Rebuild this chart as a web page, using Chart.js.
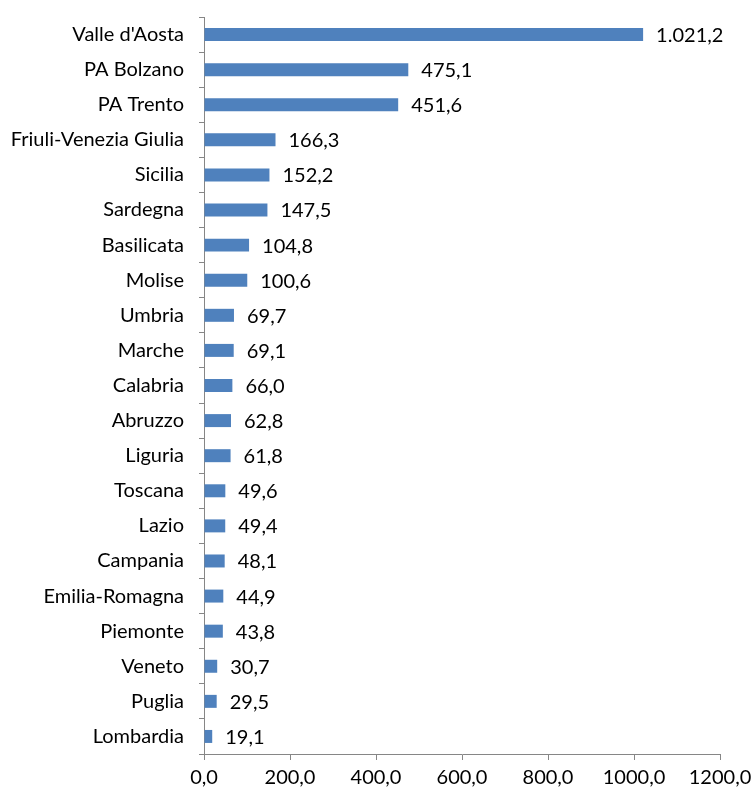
<!DOCTYPE html>
<html>
<head>
<meta charset="utf-8">
<script src="https://cdn.jsdelivr.net/npm/chart.js@4"></script>
<style>
  body { margin: 0; background: #fff; }
  canvas { display: block; }
</style>
</head>
<body>
<canvas id="grafico-regioni" width="753" height="795"></canvas>
<script>
const regioni = ["Valle d'Aosta", 'PA Bolzano', 'PA Trento', 'Friuli-Venezia Giulia', 'Sicilia', 'Sardegna',
  'Basilicata', 'Molise', 'Umbria', 'Marche', 'Calabria', 'Abruzzo', 'Liguria', 'Toscana', 'Lazio',
  'Campania', 'Emilia-Romagna', 'Piemonte', 'Veneto', 'Puglia', 'Lombardia'];
const valori = [1021.2, 475.1, 451.6, 166.3, 152.2, 147.5, 104.8, 100.6, 69.7, 69.1, 66.0, 62.8,
  61.8, 49.6, 49.4, 48.1, 44.9, 43.8, 30.7, 29.5, 19.1];
const tickX = [0, 200, 400, 600, 800, 1000, 1200];

const FONT = 'Lato, "Open Sans", sans-serif';
const SIZE = 20;

// 1.021,2 style (etichette) and 1000,0 style (asse)
function formatoEtichetta(v) {
  const parti = v.toFixed(1).split('.');
  const intero = parti[0].replace(/\B(?=(\d{3})+(?!\d))/g, '.');
  return intero + ',' + parti[1];
}
function formatoAsse(v) {
  return v.toFixed(1).replace('.', ',');
}

const etichette = {
  id: 'etichette',
  afterDatasetsDraw(chart) {
    const ctx = chart.ctx;
    const meta = chart.getDatasetMeta(0);
    ctx.save();
    ctx.font = SIZE + 'px ' + FONT;
    ctx.fillStyle = '#000';
    ctx.textAlign = 'left';
    ctx.textBaseline = 'middle';
    meta.data.forEach((bar, i) => {
      ctx.fillText(formatoEtichetta(valori[i]), bar.x + 13, bar.y + 1);
    });
    ctx.restore();
  }
};

const ctx = document.getElementById('grafico-regioni');

new Chart(ctx, {
  type: 'bar',
  data: {
    labels: regioni,
    datasets: [{
      data: valori,
      backgroundColor: '#4f81bd',
      borderWidth: 0,
      barPercentage: 0.37,
      categoryPercentage: 1
    }]
  },
  options: {
    indexAxis: 'y',
    responsive: false,
    animation: false,
    layout: { padding: { top: 17, right: 33, left: 0, bottom: 0 } },
    plugins: {
      legend: { display: false },
      tooltip: { enabled: false }
    },
    scales: {
      x: {
        min: 0,
        max: 1200,
        afterBuildTicks(scale) {
          scale.ticks = tickX.map(v => ({ value: v }));
        },
        afterFit(scale) {
          scale.height = 41;
          scale.paddingLeft = 0;
          scale.paddingRight = 0;
        },
        border: { color: '#868686', width: 1 },
        grid: { drawOnChartArea: false, tickLength: 6, color: '#868686' },
        ticks: {
          color: '#000',
          padding: 6,
          maxRotation: 0,
          font: { family: FONT, size: SIZE },
          callback: v => formatoAsse(v)
        }
      },
      y: {
        afterFit(scale) {
          scale.width = 204;
          scale.paddingTop = 0;
          scale.paddingBottom = 0;
        },
        border: { color: '#868686', width: 1 },
        grid: { drawOnChartArea: false, tickLength: 5, color: '#868686', offset: true },
        ticks: {
          color: '#000',
          padding: 15,
          autoSkip: false,
          font: { family: FONT, size: SIZE }
        }
      }
    }
  },
  plugins: [etichette]
});
</script>
</body>
</html>
